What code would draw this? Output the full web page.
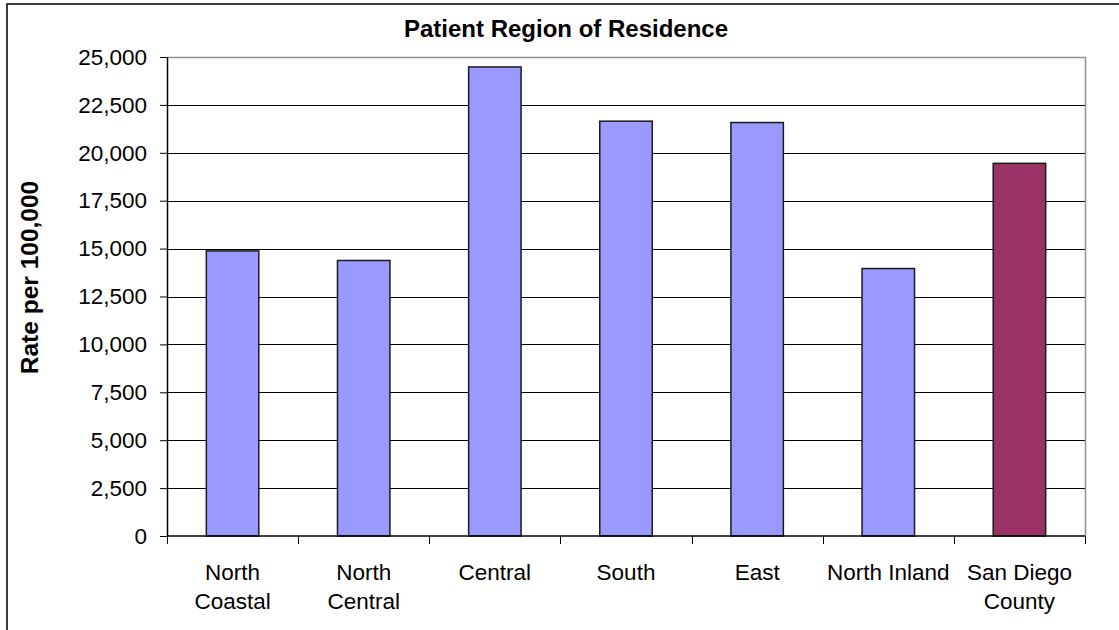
<!DOCTYPE html>
<html>
<head>
<meta charset="utf-8">
<script src="https://cdn.jsdelivr.net/npm/d3@7"></script>
<style>
  body { margin: 0; background: #fff; }
  svg { display: block; font-family: Arial, "Liberation Sans", sans-serif; }
</style>
</head>
<body>
<div class="container_graph"></div>
<script>
const categories = ["North Coastal", "North Central", "Central", "South", "East", "North Inland", "San Diego County"];
const labelLines = [["North", "Coastal"], ["North", "Central"], ["Central"], ["South"], ["East"], ["North Inland"], ["San Diego", "County"]];
const rates = [14880, 14380, 24480, 21650, 21580, 13960, 19450];
const barColors = ["#9999ff", "#9999ff", "#9999ff", "#9999ff", "#9999ff", "#9999ff", "#993366"];
const yTicks = [0, 2500, 5000, 7500, 10000, 12500, 15000, 17500, 20000, 22500, 25000];

const width = 1119;
const height = 630;
const margin = { top: 57, right: 34, bottom: 94, left: 167 };

const svg = d3
  .select(".container_graph")
  .append("svg")
  .attr("width", width)
  .attr("height", height);

// outer chart border
svg
  .append("rect")
  .attr("x", 7)
  .attr("y", 4)
  .attr("width", width + 20)
  .attr("height", height + 20)
  .attr("fill", "none")
  .attr("stroke", "#000")
  .attr("stroke-width", 1.5);

const xScale = d3
  .scaleBand()
  .domain(categories)
  .range([margin.left, width - margin.right])
  .paddingInner(0.6)
  .paddingOuter(0.3);

const yScale = d3
  .scaleLinear()
  .domain([0, 25000])
  .range([height - margin.bottom, margin.top]);

// gridlines
svg
  .append("g")
  .selectAll("line")
  .data(yTicks.filter((d) => d > 0 && d < 25000))
  .join("line")
  .attr("x1", margin.left)
  .attr("x2", width - margin.right)
  .attr("y1", (d) => Math.round(yScale(d)) + 0.5)
  .attr("y2", (d) => Math.round(yScale(d)) + 0.5)
  .attr("stroke", "#000")
  .attr("stroke-width", 1);

// plot area border (top & right)
svg
  .append("path")
  .attr(
    "d",
    `M${margin.left},${margin.top + 0.5}H${width - margin.right + 0.5}V${height - margin.bottom}`
  )
  .attr("fill", "none")
  .attr("stroke", "#909090")
  .attr("stroke-width", 1.5);

// bars
svg
  .append("g")
  .selectAll("rect")
  .data(rates)
  .join("rect")
  .attr("x", (d, i) => xScale(categories[i]))
  .attr("y", (d) => yScale(d))
  .attr("width", xScale.bandwidth())
  .attr("height", (d) => yScale(0) - yScale(d))
  .attr("fill", (d, i) => barColors[i])
  .attr("stroke", "#1a1a1a")
  .attr("stroke-width", 1.5);

// y axis
const yAxis = d3
  .axisLeft(yScale)
  .tickValues(yTicks)
  .tickSizeInner(7)
  .tickSizeOuter(0)
  .tickPadding(13)
  .tickFormat(d3.format(","));

const gy = svg
  .append("g")
  .attr("transform", `translate(${margin.left},0)`)
  .call(yAxis);
gy.select(".domain").attr("stroke", "#000").attr("stroke-width", 1.5);
gy.selectAll(".tick line").attr("stroke", "#000");
gy.selectAll(".tick text")
  .attr("font-family", "Arial, 'Liberation Sans', sans-serif")
  .attr("font-size", 22.5)
  .attr("fill", "#000");

// x axis: line with ticks at category boundaries
const step = xScale.step();
const x0 = margin.left;
const gx = svg.append("g").attr("transform", `translate(0,${height - margin.bottom})`);
gx.append("line")
  .attr("x1", x0)
  .attr("x2", width - margin.right)
  .attr("stroke", "#000")
  .attr("stroke-width", 1.5);
gx.selectAll(".xtick")
  .data(d3.range(categories.length + 1))
  .join("line")
  .attr("class", "xtick")
  .attr("x1", (i) => Math.round(x0 + i * step) + 0.5)
  .attr("x2", (i) => Math.round(x0 + i * step) + 0.5)
  .attr("y1", 0)
  .attr("y2", 8)
  .attr("stroke", "#000");

const labels = gx
  .selectAll(".xlabel")
  .data(categories)
  .join("text")
  .attr("class", "xlabel")
  .attr("x", (d) => xScale(d) + xScale.bandwidth() / 2)
  .attr("y", 44)
  .attr("text-anchor", "middle")
  .attr("font-size", 22.5)
  .attr("fill", "#000");
labels
  .selectAll("tspan")
  .data((d, i) => labelLines[i])
  .join("tspan")
  .attr("x", function () {
    return this.parentNode.getAttribute("x");
  })
  .attr("dy", (d, i) => (i === 0 ? 0 : 29))
  .text((d) => d);

// title
svg
  .append("text")
  .attr("x", 566)
  .attr("y", 37)
  .attr("text-anchor", "middle")
  .attr("font-weight", "bold")
  .attr("font-size", 24)
  .text("Patient Region of Residence");

// y axis title
svg
  .append("text")
  .attr("transform", "translate(38, 277.5) rotate(-90)")
  .attr("text-anchor", "middle")
  .attr("font-weight", "bold")
  .attr("font-size", 24.5)
  .text("Rate per 100,000");
</script>
</body>
</html>
